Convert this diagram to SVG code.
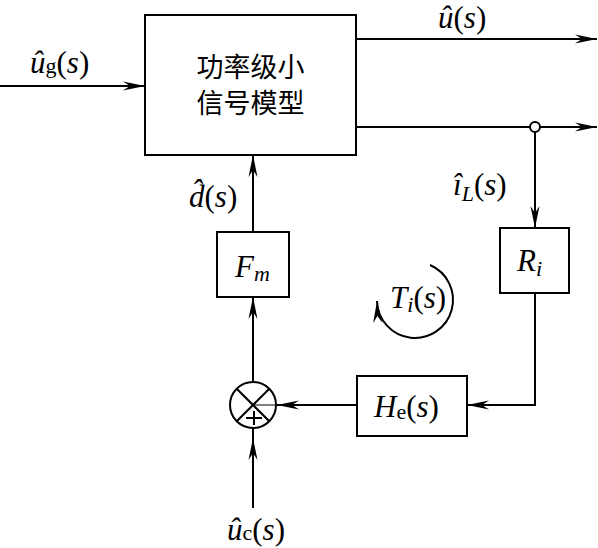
<svg xmlns="http://www.w3.org/2000/svg" width="598" height="548" viewBox="0 0 598 548">
<style>
.box{fill:#fff;stroke:#000;stroke-width:2}
.ln{fill:none;stroke:#000;stroke-width:2}
.t{font-family:"Liberation Serif","Times New Roman",serif;font-size:31px;fill:#000}
.i{font-style:italic}
.sub{font-size:22px}
.cn{font-family:"Noto Sans CJK SC","Noto Sans CJK JP",sans-serif;font-size:27px;fill:#000}
</style>
<defs>
<marker id="arr" viewBox="-23 -5 24 10" refX="0" refY="0" markerWidth="24" markerHeight="10" orient="auto" markerUnits="userSpaceOnUse">
<path d="M0,0 L-22,-4.5 L-15,0 L-22,4.5 z" fill="#000"/>
</marker>
</defs>
<g id="connectors">
<path class="ln" d="M0,86 H145" marker-end="url(#arr)"/>
<path class="ln" d="M356,39 H597" marker-end="url(#arr)"/>
<path class="ln" d="M356,127 H530"/>
<path class="ln" d="M540,127 H597" marker-end="url(#arr)"/>
<path class="ln" d="M535,132 V228" marker-end="url(#arr)"/>
<path class="ln" d="M535,293 V405 H467" marker-end="url(#arr)"/>
<path class="ln" d="M357,405 H277" marker-end="url(#arr)"/>
<path class="ln" d="M253,508 V438" marker-end="url(#arr)"/>
<path class="ln" d="M253,438 V428"/>
<path class="ln" d="M253,382 V297" marker-end="url(#arr)"/>
<path class="ln" d="M253,232 V155" marker-end="url(#arr)"/>
<circle cx="535" cy="127" r="5" fill="#fff" stroke="#000" stroke-width="2"/>
<path class="ln" d="M430,265 A38,38 0 1 1 377,301" marker-end="url(#arr)"/>
</g>
<g id="main">
<rect class="box" x="145" y="15" width="211" height="140"/>
<text class="cn" x="250.5" y="77" text-anchor="middle">功率级小</text>
<text class="cn" x="250.5" y="113" text-anchor="middle">信号模型</text>
</g>
<g id="Fm">
<rect class="box" x="217" y="232" width="72" height="65"/>
<text class="t" x="235" y="277"><tspan class="i">F</tspan><tspan class="i sub" dy="4">m</tspan></text>
</g>
<g id="Ri">
<rect class="box" x="500" y="228" width="69" height="65"/>
<text class="t" x="517" y="271"><tspan class="i">R</tspan><tspan class="i sub" dy="5">i</tspan></text>
</g>
<g id="He">
<rect class="box" x="357" y="376" width="110" height="60"/>
<text class="t" x="374" y="417"><tspan class="i">H</tspan><tspan class="sub" dy="2">e</tspan><tspan dy="-2">(</tspan><tspan class="i">s</tspan>)</text>
</g>
<g id="sum">
<circle cx="253" cy="405" r="23" fill="#fff" stroke="#000" stroke-width="2"/>
<path class="ln" d="M236.7,388.7 L269.3,421.3 M269.3,388.7 L236.7,421.3"/>
<path fill="none" stroke="#000" stroke-width="1" d="M253,405 H276"/>
<path class="ln" d="M246,418 H262 M254,411 V425"/>
</g>
<g id="labels">
<text class="t" x="30" y="73"><tspan class="i">û</tspan><tspan class="sub">g</tspan>(<tspan class="i">s</tspan>)</text>
<text class="t" x="438" y="28"><tspan class="i">û</tspan>(<tspan class="i">s</tspan>)</text>
<text class="t" x="453" y="195"><tspan class="i">î</tspan><tspan class="i sub" dy="6">L</tspan><tspan dy="-6">(</tspan><tspan class="i">s</tspan>)</text>
<text class="t" x="189" y="207"><tspan class="i">d̂</tspan>(<tspan class="i">s</tspan>)</text>
<text class="t" x="390" y="308"><tspan class="i">T</tspan><tspan class="i sub" dy="4">i</tspan><tspan dy="-4">(</tspan><tspan class="i">s</tspan>)</text>
<text class="t" x="227" y="540"><tspan class="i">û</tspan><tspan class="sub">c</tspan>(<tspan class="i">s</tspan>)</text>
</g>
</svg>
